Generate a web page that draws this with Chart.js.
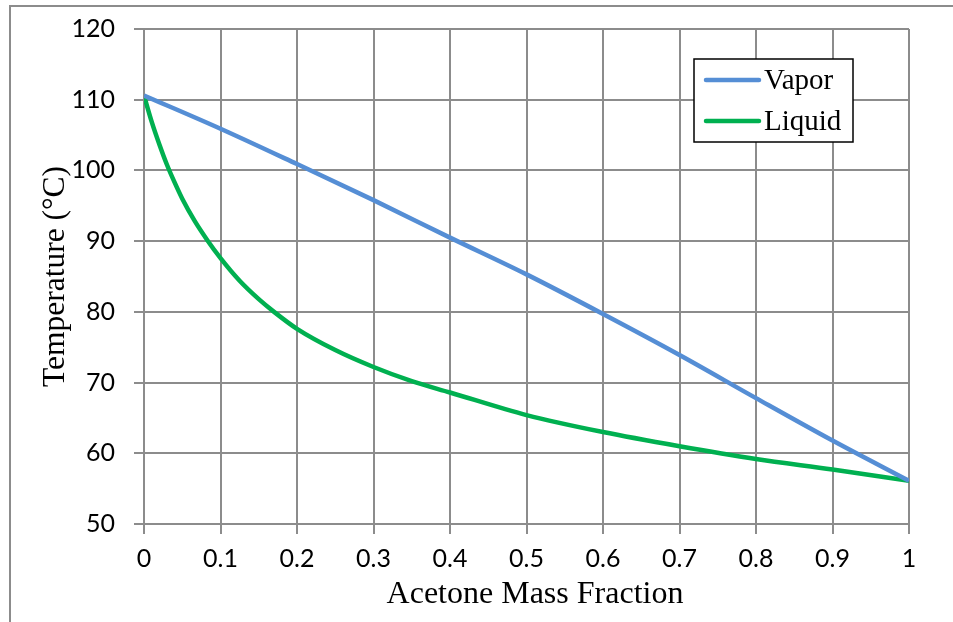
<!DOCTYPE html>
<html>
<head>
<meta charset="utf-8">
<script src="https://cdn.jsdelivr.net/npm/chart.js@4.4.1/dist/chart.umd.min.js"></script>
<style>
  html, body { margin: 0; padding: 0; background: #ffffff; }
  #wrap { width: 953px; height: 622px; position: relative; }
</style>
</head>
<body>
<div id="wrap"><canvas id="c" width="953" height="622"></canvas></div>
<script>
// ---- data ----
const vaporX = [0, 0.1, 0.2, 0.3, 0.4, 0.5, 0.6, 0.7, 0.8, 0.9, 1];
const vaporT = [110.6, 105.9, 100.9, 95.8, 90.5, 85.3, 79.7, 73.9, 67.8, 61.8, 56.1];
const liquidX = [0, 0.01, 0.02, 0.03, 0.04, 0.05, 0.066, 0.083, 0.1, 0.125, 0.15, 0.17, 0.2, 0.25, 0.3, 0.35, 0.4, 0.5, 0.6, 0.7, 0.8, 0.9, 1];
const liquidT = [110.6, 106.9, 103.7, 100.8, 98.3, 96.0, 92.9, 90.1, 87.6, 84.4, 81.8, 80.0, 77.6, 74.6, 72.2, 70.2, 68.6, 65.4, 63.0, 61.0, 59.2, 57.7, 56.1];
const seriesNames = ['Vapor', 'Liquid'];
const xTicks = [0, 0.1, 0.2, 0.3, 0.4, 0.5, 0.6, 0.7, 0.8, 0.9, 1];
const yTicks = [50, 60, 70, 80, 90, 100, 110, 120];
const xTitle = 'Acetone Mass Fraction';
const yTitle = 'Temperature (°C)';

const colors = ['#558ED5', '#00B050'];
const gridColor = '#8C8C8C';

const toPts = (xs, ys) => xs.map((x, i) => ({x: x, y: ys[i]}));

const framePlugin = {
  id: 'frame',
  beforeDraw(chart) {
    const ctx = chart.ctx;
    ctx.save();
    ctx.fillStyle = '#ffffff';
    ctx.fillRect(0, 0, chart.width, chart.height);
    ctx.strokeStyle = '#8C8C8C';
    ctx.lineWidth = 2;
    ctx.beginPath();
    ctx.moveTo(10, 622);
    ctx.lineTo(10, 6);
    ctx.lineTo(953, 6);
    ctx.stroke();
    ctx.restore();
  },
  afterDraw(chart) {
    const ctx = chart.ctx;
    ctx.save();
    ctx.font = '32px "Liberation Serif", "Times New Roman", serif';
    ctx.fillStyle = '#000000';
    ctx.textAlign = 'center';
    ctx.textBaseline = 'alphabetic';
    ctx.fillText(xTitle, 535, 603);
    ctx.restore();
  }
};

const legendPlugin = {
  id: 'boxLegend',
  afterDatasetsDraw(chart) {
    const ctx = chart.ctx;
    const x0 = 694, y0 = 59, w = 159, h = 83;
    ctx.save();
    ctx.fillStyle = '#ffffff';
    ctx.fillRect(x0, y0, w, h);
    ctx.strokeStyle = '#000000';
    ctx.lineWidth = 1.5;
    ctx.strokeRect(x0, y0, w, h);
    ctx.font = '29px "Liberation Serif", "Times New Roman", serif';
    ctx.textBaseline = 'middle';
    ctx.textAlign = 'left';
    chart.data.datasets.forEach((ds, i) => {
      const yy = 80 + i * 41;
      ctx.strokeStyle = ds.borderColor;
      ctx.lineWidth = 4.5;
      ctx.lineCap = 'round';
      ctx.beginPath();
      ctx.moveTo(706, yy);
      ctx.lineTo(759, yy);
      ctx.stroke();
      ctx.fillStyle = '#000000';
      ctx.fillText(ds.label, 764, yy + 1);
    });
    ctx.restore();
  }
};

new Chart(document.getElementById('c'), {
  type: 'scatter',
  data: {
    datasets: [
      { label: seriesNames[0], data: toPts(vaporX, vaporT), showLine: true, borderColor: colors[0],
        backgroundColor: colors[0], borderWidth: 4.5, pointRadius: 0, cubicInterpolationMode: 'monotone' },
      { label: seriesNames[1], data: toPts(liquidX, liquidT), showLine: true, borderColor: colors[1],
        backgroundColor: colors[1], borderWidth: 4.5, pointRadius: 0, cubicInterpolationMode: 'monotone' }
    ]
  },
  options: {
    responsive: false,
    animation: false,
    devicePixelRatio: 1,
    layout: { padding: { left: 0, top: 29, right: 44, bottom: 0 } },
    plugins: { legend: { display: false }, tooltip: { enabled: false } },
    scales: {
      x: {
        type: 'linear', min: 0, max: 1,
        afterBuildTicks(scale) { scale.ticks = xTicks.map(v => ({value: v})); },
        afterFit(scale) { scale.height = 98; scale.paddingLeft = 0; scale.paddingRight = 0; },
        ticks: { color: '#000000', font: { family: 'Lato', size: 25 }, padding: 10, maxRotation: 0,
                 callback: v => String(v) },
        grid: { color: gridColor, lineWidth: 2, tickLength: 10, drawTicks: true },
        border: { color: gridColor, width: 2 },
        title: { display: false }
      },
      y: {
        type: 'linear', min: 50, max: 120,
        afterBuildTicks(scale) { scale.ticks = yTicks.map(v => ({value: v})); },
        afterFit(scale) { scale.width = 144; scale.paddingTop = 0; scale.paddingBottom = 0; },
        ticks: { color: '#000000', font: { family: 'Lato', size: 25 }, padding: 19,
                 callback: v => String(v) },
        grid: { color: gridColor, lineWidth: 2, tickLength: 10, drawTicks: true },
        border: { color: gridColor, width: 2 },
        title: { display: true, text: yTitle, color: '#000000',
                 font: { family: '"Liberation Serif"', size: 31.5 }, padding: { top: 37, bottom: 0 } }
      }
    }
  },
  plugins: [framePlugin, legendPlugin]
});
</script>
</body>
</html>
